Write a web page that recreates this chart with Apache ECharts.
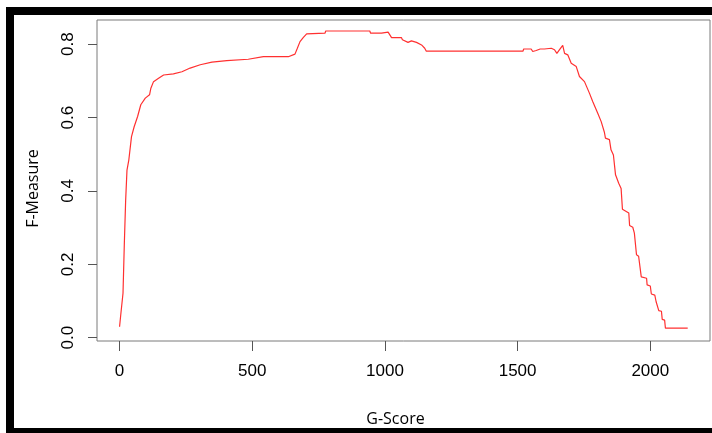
<!DOCTYPE html>
<html>
  <head>
    <meta charset="UTF-8" />
    <title>F-Measure vs G-Score</title>
    <style type="text/css">
      * {
        margin: 0;
        padding: 0;
      }
      body {
        background: #fff;
      }
      #main {
        width: 712px;
        height: 433px;
      }
    </style>
  </head>
  <body>
    <div id="main"></div>
    <script src="https://cdn.jsdelivr.net/npm/echarts@6/dist/echarts.min.js"></script>
    <script type="text/javascript">
      // values
      var gScore = [
        0, 5, 13, 18, 23, 28, 35, 45, 55, 68, 80, 97, 113, 118, 128, 147, 166, 203, 235, 266,
        304, 348, 404, 485, 542, 636, 661, 670, 680, 692, 705, 774, 777, 943, 946, 987, 993,
        1012, 1025, 1062, 1066, 1087, 1100, 1119, 1138, 1150, 1156, 1520, 1523, 1551, 1557,
        1570, 1576, 1585, 1601, 1608, 1627, 1639, 1648, 1658, 1670, 1677, 1689, 1702, 1721,
        1733, 1752, 1771, 1783, 1802, 1815, 1827, 1831, 1846, 1852, 1861, 1869, 1881, 1890,
        1895, 1919, 1922, 1934, 1940, 1948, 1956, 1966, 1986, 1988, 2000, 2004, 2017, 2022,
        2028, 2032, 2042, 2045, 2054, 2057, 2141
      ]
      var fMeasure = [
        0.030, 0.066, 0.121, 0.257, 0.375, 0.457, 0.485, 0.548, 0.575, 0.603, 0.635, 0.653,
        0.662, 0.680, 0.698, 0.707, 0.716, 0.719, 0.725, 0.735, 0.744, 0.751, 0.755, 0.759,
        0.766, 0.766, 0.773, 0.789, 0.807, 0.818, 0.828, 0.830, 0.836, 0.836, 0.830, 0.830,
        0.825, 0.833, 0.818, 0.818, 0.812, 0.805, 0.809, 0.805, 0.798, 0.789, 0.781, 0.781,
        0.787, 0.787, 0.780, 0.783, 0.778, 0.787, 0.787, 0.782, 0.789, 0.785, 0.775, 0.785,
        0.797, 0.775, 0.771, 0.748, 0.739, 0.712, 0.698, 0.666, 0.644, 0.612, 0.589, 0.560,
        0.544, 0.540, 0.512, 0.498, 0.444, 0.421, 0.407, 0.350, 0.340, 0.306, 0.301, 0.285,
        0.226, 0.222, 0.166, 0.162, 0.144, 0.141, 0.119, 0.116, 0.098, 0.095, 0.074, 0.072,
        0.050, 0.048, 0.026, 0.026
      ]
      var xTicks = [0, 500, 1000, 1500, 2000]
      var yTicks = [0, 0.2, 0.4, 0.6, 0.8]

      var points = gScore.map(function (g, i) {
        return [g, fMeasure[i]]
      })

      var myChart = echarts.init(document.getElementById('main'))
      var option = {
        backgroundColor: '#fff',
        animation: false,
        // thick black frame round the picture
        graphic: [
          { type: 'rect', shape: { x: 6, y: 7, width: 706, height: 8 }, style: { fill: '#000' } },
          { type: 'rect', shape: { x: 6, y: 7, width: 8, height: 426 }, style: { fill: '#000' } },
          { type: 'rect', shape: { x: 6, y: 428, width: 706, height: 5 }, style: { fill: '#000' } }
        ],
        grid: {
          left: 97,
          top: 20,
          right: 2,
          bottom: 92,
          show: true,
          borderColor: '#7a7a7a',
          borderWidth: 1
        },
        xAxis: {
          type: 'value',
          min: -85,
          max: 2225,
          name: 'G-Score',
          nameLocation: 'middle',
          nameGap: 70,
          nameTextStyle: { fontFamily: 'Open Sans', fontSize: 16, color: '#000', padding: [0, 16, 0, 0] },
          axisLine: { show: false, onZero: false },
          splitLine: { show: false },
          axisTick: { show: true, length: 10, customValues: xTicks, lineStyle: { color: '#555' } },
          axisLabel: {
            customValues: xTicks,
            margin: 22,
            fontFamily: 'Liberation Sans',
            fontSize: 17,
            color: '#000',
            formatter: function (v) {
              return String(v)
            }
          }
        },
        yAxis: {
          type: 'value',
          min: -0.009,
          max: 0.866,
          name: 'F-Measure',
          nameLocation: 'middle',
          nameGap: 56,
          nameTextStyle: { fontFamily: 'Open Sans', fontSize: 16, color: '#000', padding: [0, 16, 0, 0] },
          axisLine: { show: false, onZero: false },
          splitLine: { show: false },
          axisTick: { show: true, length: 9, customValues: yTicks, lineStyle: { color: '#555' } },
          axisLabel: {
            customValues: yTicks,
            rotate: 90,
            margin: 20,
            fontFamily: 'Liberation Sans',
            fontSize: 17,
            color: '#000',
            formatter: function (v) {
              return v.toFixed(1)
            }
          }
        },
        series: [
          {
            type: 'line',
            data: points,
            showSymbol: false,
            lineStyle: { color: '#ff3030', width: 1.2 }
          }
        ]
      }
      myChart.setOption(option)
    </script>
  </body>
</html>
